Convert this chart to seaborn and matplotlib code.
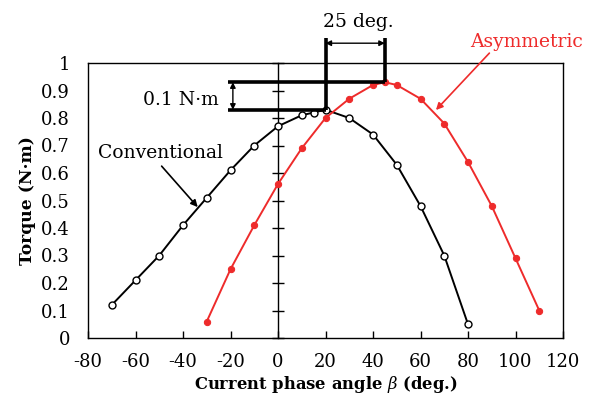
import matplotlib
matplotlib.use("Agg")
import matplotlib.pyplot as plt
import seaborn as sns
import pandas as pd

# Data
conv_angle = [-70, -60, -50, -40, -30, -20, -10, 0, 10, 15, 20, 30, 40, 50, 60, 70, 80]
conv_torque = [0.12, 0.21, 0.30, 0.41, 0.51, 0.61, 0.70, 0.77, 0.81, 0.82, 0.83, 0.80, 0.74, 0.63, 0.48, 0.30, 0.05]
asym_angle = [-30, -20, -10, 0, 10, 20, 30, 40, 45, 50, 60, 70, 80, 90, 100, 110]
asym_torque = [0.06, 0.25, 0.41, 0.56, 0.69, 0.80, 0.87, 0.92, 0.93, 0.92, 0.87, 0.78, 0.64, 0.48, 0.29, 0.10]
x_ticks = [-80, -60, -40, -20, 0, 20, 40, 60, 80, 100, 120]
y_ticks = [0, 0.1, 0.2, 0.3, 0.4, 0.5, 0.6, 0.7, 0.8, 0.9, 1.0]
y_ticklabels = ["0", "0.1", "0.2", "0.3", "0.4", "0.5", "0.6", "0.7", "0.8", "0.9", "1"]
peak_conv = (20, 0.83)
peak_asym = (45, 0.93)

sns.set_theme(style="white")
plt.rcParams["font.family"] = ["DejaVu Serif"]
plt.rcParams["mathtext.fontset"] = "dejavuserif"

RED = "#ee2b2b"
fig = plt.figure(figsize=(5.94, 4.03), dpi=100)
ax = fig.add_axes([88/594, 1-338/403, 475/594, 275/403])

conv = pd.DataFrame({"angle": conv_angle, "torque": conv_torque})
asym = pd.DataFrame({"angle": asym_angle, "torque": asym_torque})

sns.lineplot(data=conv, x="angle", y="torque", ax=ax, color="black", lw=1.4,
             marker="o", markersize=5, markerfacecolor="white",
             markeredgecolor="black", markeredgewidth=1.0, zorder=3)
sns.lineplot(data=asym, x="angle", y="torque", ax=ax, color=RED, lw=1.4,
             marker="o", markersize=4.5, markerfacecolor=RED,
             markeredgecolor=RED, zorder=3)

ax.set_xlim(-80, 120)
ax.set_ylim(0, 1)
ax.set_xticks(x_ticks)
ax.set_xticklabels([str(v) for v in x_ticks])
ax.set_yticks(y_ticks)
ax.set_yticklabels(y_ticklabels)
for s in ax.spines.values():
    s.set_color("black")
    s.set_linewidth(1.0)
ax.tick_params(axis="x", direction="in", length=5, width=1, colors="black",
               labelsize=13, pad=11, bottom=True)
ax.tick_params(axis="y", length=0, labelsize=13, pad=13, colors="black")

# center axis at x = 0 with crossing ticks
sec = ax.secondary_yaxis(location=0.4)
sec.set_yticks(y_ticks)
sec.tick_params(axis="y", direction="inout", length=8, width=1, labelleft=False,
                labelright=False, colors="black")
sec.spines["left"].set_color("black")
sec.spines["left"].set_linewidth(1.0)
sec.spines["right"].set_visible(False)

ax.set_xlabel(r"Current phase angle $\beta$ (deg.)", fontsize=11.8, fontweight="bold",
              labelpad=2, color="black")
ax.set_ylabel("Torque (N·m)", fontsize=12.3, fontweight="bold", labelpad=4, color="black")

# annotation construction lines
ax.plot([-21, peak_asym[0]], [peak_asym[1], peak_asym[1]], color="black", lw=2.6,
        clip_on=False, zorder=4, solid_capstyle="butt")
ax.plot([-21, peak_conv[0]], [peak_conv[1], peak_conv[1]], color="black", lw=2.6,
        clip_on=False, zorder=4, solid_capstyle="butt")
ax.plot([peak_conv[0], peak_conv[0]], [peak_conv[1], 1.09], color="black", lw=2.6,
        clip_on=False, zorder=4, solid_capstyle="butt")
ax.plot([peak_asym[0], peak_asym[0]], [peak_asym[1], 1.09], color="black", lw=2.6,
        clip_on=False, zorder=4, solid_capstyle="butt")

ax.annotate("", xy=(peak_conv[0], 1.072), xytext=(peak_asym[0], 1.072),
            arrowprops=dict(arrowstyle="<|-|>", color="black", lw=1.0,
                            shrinkA=0, shrinkB=0, mutation_scale=8),
            annotation_clip=False)
ax.text(33.7, 1.15, "25 deg.", ha="center", va="center", fontsize=13.5, color="black")

ax.annotate("", xy=(-19, peak_conv[1]), xytext=(-19, peak_asym[1]),
            arrowprops=dict(arrowstyle="<|-|>", color="black", lw=1.0,
                            shrinkA=0, shrinkB=0, mutation_scale=8))
ax.text(-41, 0.866, "0.1 N·m", ha="center", va="center", fontsize=13.5, color="black")

ax.text(-49.3, 0.674, "Conventional", ha="center", va="center", fontsize=13.5, color="black")
ax.annotate("", xy=(-33.8, 0.476), xytext=(-49, 0.625),
            arrowprops=dict(arrowstyle="-|>", color="black", lw=1.2,
                            shrinkA=0, shrinkB=0, mutation_scale=10))

ax.text(104.6, 1.078, "Asymmetric", ha="center", va="center", fontsize=13.5, color=RED)
ax.annotate("", xy=(66.5, 0.829), xytext=(89, 1.036),
            arrowprops=dict(arrowstyle="-|>", color=RED, lw=1.2,
                            shrinkA=0, shrinkB=0, mutation_scale=10),
            annotation_clip=False)

fig.savefig("out.png", dpi=100)
